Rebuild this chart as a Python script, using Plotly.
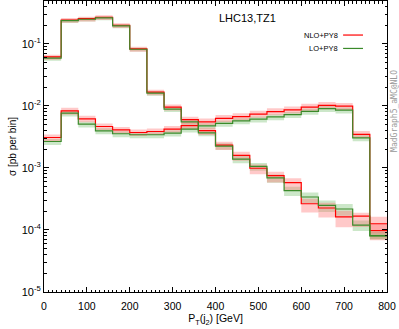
import plotly.graph_objects as go

# ---- data ----
edges = [0, 40, 80, 120, 160, 200, 240, 280, 320, 360, 400, 440, 480, 520, 560, 600, 640, 680, 720, 760, 800]

# histogram 1 (falling)
nlo_A = [0.0618, 0.243, 0.255, 0.269, 0.200, 0.083, 0.0167, 0.0096, 0.0060, 0.0040,
         0.00234, 0.0016, 0.00099, 0.00075, 0.00058, 0.000265, 0.000226, 0.000163, 0.000167, 0.000126]
lo_A = [0.0589, 0.237, 0.250, 0.262, 0.195, 0.082, 0.0161, 0.0089, 0.00555, 0.00369,
        0.00225, 0.00139, 0.00106, 0.00069, 0.00043, 0.00034, 0.00025, 0.000218, 0.000120, 0.000081]
# histogram 2 (rising)
nlo_B = [0.0031, 0.0083, 0.0062, 0.00466, 0.0041, 0.00373, 0.00387, 0.00423, 0.00483, 0.00554,
         0.0063, 0.00675, 0.00738, 0.0081, 0.00865, 0.00957, 0.0102, 0.0099, 0.00349, 0.000098]
lo_B = [0.00267, 0.00766, 0.0051, 0.00396, 0.00356, 0.00343, 0.00343, 0.00365, 0.00423, 0.00478,
        0.00525, 0.00575, 0.00612, 0.00667, 0.00727, 0.00819, 0.00908, 0.00855, 0.00306, 0.000080]

# relative uncertainty bands (up, down)
nlo_A_up = [0.08, 0.08, 0.08, 0.08, 0.08, 0.08, 0.09, 0.10, 0.12, 0.12, 0.13, 0.14, 0.15, 0.16, 0.18, 0.20, 0.22, 0.25, 0.14, 0.30]
nlo_A_dn = [0.10, 0.10, 0.10, 0.10, 0.10, 0.10, 0.11, 0.12, 0.14, 0.15, 0.17, 0.18, 0.20, 0.22, 0.25, 0.28, 0.30, 0.32, 0.33, 0.30]
lo_A_up = [0.07, 0.06, 0.06, 0.06, 0.06, 0.06, 0.07, 0.08, 0.09, 0.10, 0.11, 0.12, 0.13, 0.14, 0.16, 0.18, 0.20, 0.20, 0.18, 0.20]
lo_A_dn = [0.09, 0.08, 0.08, 0.08, 0.08, 0.08, 0.09, 0.10, 0.11, 0.12, 0.13, 0.14, 0.15, 0.16, 0.18, 0.20, 0.22, 0.22, 0.20, 0.12]
nlo_B_up = [0.12, 0.13, 0.12, 0.12, 0.12, 0.12, 0.12, 0.12, 0.12, 0.13, 0.13, 0.13, 0.13, 0.13, 0.13, 0.13, 0.13, 0.13, 0.13, 0.30]
nlo_B_dn = [0.12, 0.13, 0.12, 0.12, 0.12, 0.12, 0.12, 0.12, 0.12, 0.13, 0.13, 0.13, 0.13, 0.13, 0.13, 0.13, 0.13, 0.13, 0.13, 0.30]
lo_B_up = [0.10, 0.10, 0.10, 0.10, 0.10, 0.10, 0.10, 0.10, 0.10, 0.10, 0.10, 0.10, 0.10, 0.10, 0.10, 0.10, 0.10, 0.10, 0.10, 0.18]
lo_B_dn = [0.12, 0.12, 0.12, 0.12, 0.12, 0.12, 0.12, 0.12, 0.12, 0.12, 0.12, 0.12, 0.12, 0.12, 0.12, 0.12, 0.12, 0.12, 0.12, 0.12]

y_tickvals = [1e-5, 1e-4, 1e-3, 1e-2, 1e-1]
y_ticktext = ["10<sup>-5</sup>", "10<sup>-4</sup>", "10<sup>-3</sup>", "10<sup>-2</sup>", "10<sup>-1</sup>"]
x_tickvals = [0, 100, 200, 300, 400, 500, 600, 700, 800]

RED = "#ff0000"
GREEN = "#3a8a2a"
RED_BAND = "rgba(255,120,120,0.40)"
GREEN_BAND = "rgba(110,185,100,0.35)"


def step(vals):
    return list(vals) + [vals[-1]]


fig = go.Figure()


def add_band(vals, up, dn, color):
    hi = [v * (1 + u) for v, u in zip(vals, up)]
    lo = [v * (1 - d) for v, d in zip(vals, dn)]
    fig.add_trace(go.Scatter(x=edges, y=step(lo), mode="lines", line=dict(width=0, shape="hv"),
                             hoverinfo="skip", showlegend=False))
    fig.add_trace(go.Scatter(x=edges, y=step(hi), mode="lines", line=dict(width=0, shape="hv"),
                             fill="tonexty", fillcolor=color, hoverinfo="skip", showlegend=False))


def add_line(vals, color):
    fig.add_trace(go.Scatter(x=edges, y=step(vals), mode="lines",
                             line=dict(color=color, width=1.2, shape="hv"), showlegend=False))


add_band(lo_A, lo_A_up, lo_A_dn, GREEN_BAND)
add_band(lo_B, lo_B_up, lo_B_dn, GREEN_BAND)
add_band(nlo_A, nlo_A_up, nlo_A_dn, RED_BAND)
add_band(nlo_B, nlo_B_up, nlo_B_dn, RED_BAND)
add_line(nlo_A, RED)
add_line(nlo_B, RED)
add_line(lo_A, GREEN)
add_line(lo_B, GREEN)

minor_y = [m * 10 ** e for e in range(-5, 0) for m in range(2, 10)]

fig.update_layout(
    width=399, height=329,
    margin=dict(l=44, r=12, t=1, b=37),
    paper_bgcolor="white", plot_bgcolor="white",
    font=dict(family="Liberation Sans, Arial, sans-serif", color="black", size=10),
    showlegend=False,
    xaxis=dict(range=[0, 800], tickvals=x_tickvals, ticks="inside", ticklen=5, tickcolor="black",
               showline=True, linecolor="black", linewidth=1, mirror="ticks", showgrid=False,
               zeroline=False, tickfont=dict(size=10.5), ticklabelstandoff=4,
               minor=dict(dtick=10, tick0=0, ticks="inside", ticklen=2.5, tickcolor="black"),
               title=dict(text="P<sub>T</sub>(j<sub>2</sub>) [GeV]", font=dict(size=10.5), standoff=4)),
    yaxis=dict(type="log", range=[-5, -0.308], tickvals=y_tickvals, ticktext=y_ticktext,
               ticks="inside", ticklen=5, tickcolor="black",
               showline=True, linecolor="black", linewidth=1, mirror="ticks", showgrid=False,
               zeroline=False, tickfont=dict(size=11),
               minor=dict(tickvals=minor_y, ticks="inside", ticklen=2.5, tickcolor="black"),
               title=dict(text="σ [pb per bin]", font=dict(size=10), standoff=3)),
)

# title / legend / watermark
fig.add_annotation(text="LHC13,TZ1", xref="paper", yref="paper", x=0.504, y=0.943,
                   xanchor="left", yanchor="middle", showarrow=False, font=dict(size=11))
fig.add_annotation(text="NLO+PY8", xref="paper", yref="paper", x=0.863, y=0.883,
                   xanchor="right", yanchor="middle", showarrow=False, font=dict(size=7.5))
fig.add_annotation(text="LO+PY8", xref="paper", yref="paper", x=0.863, y=0.837,
                   xanchor="right", yanchor="middle", showarrow=False, font=dict(size=7.5))
fig.add_shape(type="line", xref="paper", yref="paper", x0=0.872, x1=0.930, y0=0.883, y1=0.883,
              line=dict(color=RED, width=1.2))
fig.add_shape(type="line", xref="paper", yref="paper", x0=0.872, x1=0.930, y0=0.837, y1=0.837,
              line=dict(color=GREEN, width=1.2))
fig.add_annotation(text="MadGraph5_aMC@NLO", xref="paper", yref="paper", x=1.023, y=0.622,
                   xanchor="center", yanchor="middle", textangle=-90, showarrow=False,
                   font=dict(size=8, family="DejaVu Sans Mono, monospace", color="#999999"))

fig.write_html("out.html", config={"displayModeBar": False},
               post_script="document.body.style.margin='0';document.body.style.padding='0';")
